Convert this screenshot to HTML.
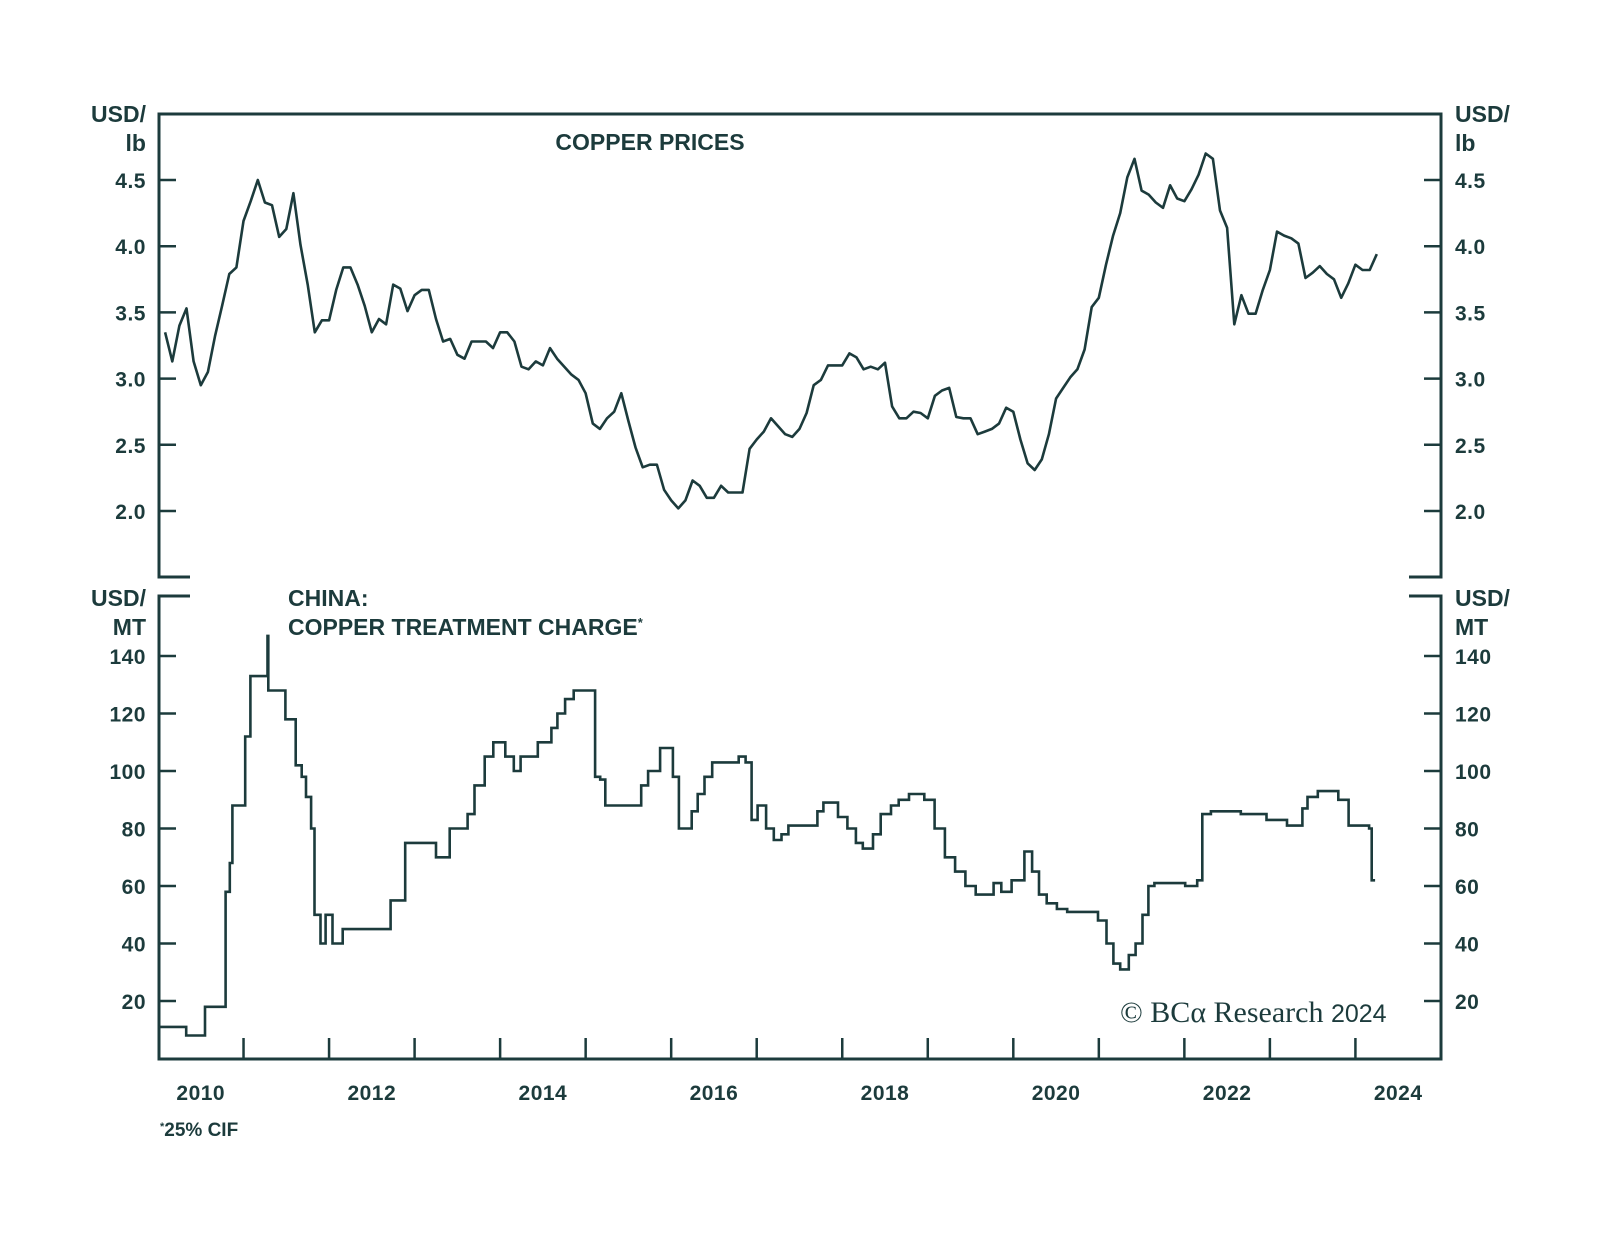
<!DOCTYPE html>
<html><head><meta charset="utf-8"><style>
body{margin:0;background:#fff;}
svg text{font-family:"Liberation Sans",sans-serif;font-weight:bold;fill:#1c3b3c;}
</style></head><body>
<svg id="chart" width="1600" height="1237" viewBox="0 0 1600 1237" xmlns="http://www.w3.org/2000/svg">
<g id="frame" fill="none" stroke="#1c3b3c" stroke-width="3">
<path d="M190,577 H159 V114 H1441 V577 H1409"/>
<path d="M190,596 H159 V1059 H1441 V596 H1409"/>
</g>
<g id="ticks" stroke="#1c3b3c" stroke-width="2.5"></g>
<g id="labels"></g>
<text x="650" y="150" font-size="23" text-anchor="middle">COPPER PRICES</text>
<text x="288" y="606" font-size="23">CHINA:</text>
<text x="288" y="635" font-size="23">COPPER TREATMENT CHARGE<tspan font-size="13" dy="-8">*</tspan></text>
<text x="146" y="122" font-size="23" text-anchor="end">USD/</text>
<text x="146" y="151" font-size="23" text-anchor="end">lb</text>
<text x="1455" y="122" font-size="23">USD/</text>
<text x="1455" y="151" font-size="23">lb</text>
<text x="146" y="606" font-size="23" text-anchor="end">USD/</text>
<text x="146" y="635" font-size="23" text-anchor="end">MT</text>
<text x="1455" y="606" font-size="23">USD/</text>
<text x="1455" y="635" font-size="23">MT</text>
<text x="160" y="1136" font-size="19"><tspan font-size="11" dy="-6">*</tspan><tspan dy="6">25% CIF</tspan></text>
<text x="1120" y="1022" font-size="30" style="font-family:'Liberation Serif',serif;font-weight:normal">© BCα Research <tspan style="font-family:'Liberation Sans',sans-serif;font-weight:normal" font-size="25">2024</tspan></text>
<path id="copper-line" fill="none" stroke="#1c3b3c" stroke-width="2.6" stroke-linejoin="round"/>
<path id="tc-line" fill="none" stroke="#1c3b3c" stroke-width="2.6" stroke-linejoin="miter"/>
</svg>
<script>
const copperStartYear = 2010 + 1/12;
const copperValues = [3.35,3.13,3.40,3.53,3.13,2.95,3.05,3.32,3.55,3.79,3.84,4.19,4.34,4.50,4.33,4.31,4.07,4.13,4.40,4.01,3.71,3.35,3.44,3.44,3.67,3.84,3.84,3.71,3.55,3.35,3.45,3.41,3.71,3.68,3.51,3.63,3.67,3.67,3.45,3.28,3.30,3.18,3.15,3.28,3.28,3.28,3.23,3.35,3.35,3.28,3.09,3.07,3.13,3.10,3.23,3.15,3.09,3.03,2.99,2.89,2.66,2.62,2.70,2.75,2.89,2.68,2.48,2.33,2.35,2.35,2.16,2.08,2.02,2.08,2.23,2.19,2.10,2.10,2.19,2.14,2.14,2.14,2.47,2.54,2.60,2.70,2.64,2.58,2.56,2.62,2.74,2.95,2.99,3.10,3.10,3.10,3.19,3.16,3.07,3.09,3.07,3.12,2.79,2.70,2.70,2.75,2.74,2.70,2.87,2.91,2.93,2.71,2.70,2.70,2.58,2.60,2.62,2.66,2.78,2.75,2.54,2.36,2.31,2.39,2.58,2.85,2.93,3.01,3.07,3.22,3.54,3.61,3.86,4.08,4.25,4.52,4.66,4.42,4.39,4.33,4.29,4.46,4.36,4.34,4.43,4.54,4.70,4.66,4.27,4.14,3.41,3.63,3.49,3.49,3.67,3.82,4.11,4.08,4.06,4.02,3.76,3.80,3.85,3.79,3.75,3.61,3.72,3.86,3.82,3.82,3.94];
const tcDates = [0.00,0.33,0.55,0.79,0.84,0.87,1.02,1.08,1.28,1.29,1.49,1.61,1.68,1.73,1.79,1.83,1.90,1.96,2.04,2.16,2.72,2.89,3.25,3.41,3.62,3.70,3.82,3.92,4.06,4.16,4.24,4.44,4.60,4.67,4.76,4.86,5.11,5.17,5.23,5.38,5.65,5.73,5.87,6.02,6.09,6.24,6.31,6.39,6.48,6.79,6.87,6.94,7.01,7.11,7.20,7.29,7.37,7.71,7.78,7.95,8.06,8.16,8.24,8.36,8.45,8.57,8.66,8.78,8.96,9.08,9.20,9.32,9.44,9.56,9.77,9.86,9.98,10.13,10.22,10.30,10.39,10.51,10.63,10.99,11.09,11.17,11.25,11.35,11.43,11.51,11.58,11.65,12.01,12.15,12.21,12.31,12.66,12.96,13.20,13.38,13.44,13.56,13.80,13.92,14.16,14.19,14.23];
const tcValues = [11,8,18,58,68,88,112,133,147,128,118,102,98,91,80,50,40,50,40,45,55,75,70,80,85,95,105,110,105,100,105,110,115,120,125,128,98,97,88,88,95,100,108,98,80,86,92,98,103,105,103,83,88,80,76,78,81,86,89,84,80,75,73,78,85,88,90,92,90,80,70,65,60,57,61,58,62,72,65,57,54,52,51,48,40,33,31,36,40,50,60,61,60,62,85,86,85,83,81,87,91,93,90,81,80,62,62];
const topTicks = [2.0,2.5,3.0,3.5,4.0,4.5];
const bottomTicks = [20,40,60,80,100,120,140];
const yearLabels = [2010,2012,2014,2016,2018,2020,2022,2024];

const xs = yr => 158 + (yr - 2010) * 85.53;
const yTop = v => 511 - (v - 2) * 132.4;
const yBot = v => 1001 - (v - 20) * 2.875;
const NS = 'http://www.w3.org/2000/svg';
const tg = document.getElementById('ticks'), lg = document.getElementById('labels');
function mk(tag, attrs, parent){const e=document.createElementNS(NS,tag);for(const k in attrs)e.setAttribute(k,attrs[k]);parent.appendChild(e);return e;}

topTicks.forEach(v=>{
  const y=yTop(v);
  let l=mk('line',{x1:159,x2:176,y1:y,y2:y},tg);
  
  
  l=mk('line',{x1:1424,x2:1441,y1:y,y2:y},tg);
  
  
  let t=mk('text',{x:146,y:y+8,'font-size':21,'text-anchor':'end','letter-spacing':'0.5'},lg);t.textContent=v.toFixed(1);
  
  
  t=mk('text',{x:1455,y:y+8,'font-size':21,'letter-spacing':'0.5'},lg);t.textContent=v.toFixed(1);
  
  
});
bottomTicks.forEach(v=>{
  const y=yBot(v);
  let l=mk('line',{x1:159,x2:176,y1:y,y2:y},tg);
  
  
  l=mk('line',{x1:1424,x2:1441,y1:y,y2:y},tg);
  
  
  let t=mk('text',{x:146,y:y+8,'font-size':21,'text-anchor':'end','letter-spacing':'0.5'},lg);t.textContent=v;
  
  
  t=mk('text',{x:1455,y:y+8,'font-size':21,'letter-spacing':'0.5'},lg);t.textContent=v;
  
  
});
for(let yr=2011;yr<=2024;yr++){
  const l=mk('line',{x1:xs(yr),x2:xs(yr),y1:1059,y2:1038},tg);
  
  
}
yearLabels.forEach(yr=>{
  const t=mk('text',{x:xs(yr+0.5),y:1100,'font-size':21,'text-anchor':'middle','letter-spacing':'0.5'},lg);t.textContent=yr;
  
  
});
let d='';
copperValues.forEach((v,i)=>{d+=(i?'L':'M')+xs(copperStartYear+i/12).toFixed(1)+','+yTop(v).toFixed(1);});
document.getElementById('copper-line').setAttribute('d',d);
let d2='';
for(let i=0;i<tcValues.length;i++){
  const x=xs(2010+tcDates[i]), y=yBot(tcValues[i]);
  d2+= (i? 'V'+y.toFixed(1) : 'M'+x.toFixed(1)+','+y.toFixed(1));
  if(i<tcValues.length-1) d2+='H'+xs(2010+tcDates[i+1]).toFixed(1);
}
document.getElementById('tc-line').setAttribute('d',d2);
</script>
</body></html>
